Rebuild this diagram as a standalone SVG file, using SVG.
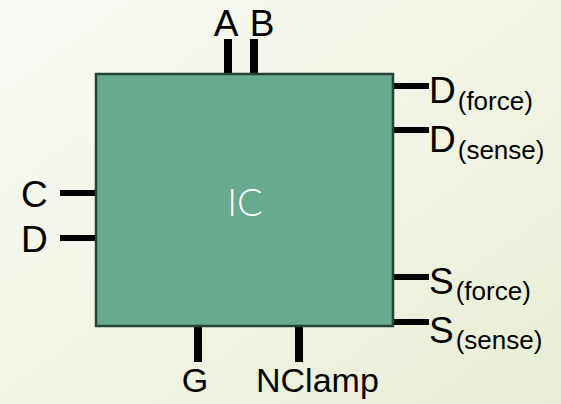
<svg xmlns="http://www.w3.org/2000/svg" width="561" height="404" viewBox="0 0 561 404">
<defs>
<linearGradient id="bg" x1="0" y1="0" x2="1" y2="1">
<stop offset="0" stop-color="#fafbf6"/>
<stop offset="1" stop-color="#e8eed4"/>
</linearGradient>
<style>
.pin{fill:#000}
.lbl{font-family:"Liberation Sans",Arial,sans-serif;font-size:37px;fill:#000}
.bot{font-size:34px}
.sub{font-size:26px}
.ic{font-family:"Century Gothic","Lato","Noto Sans",sans-serif;font-weight:300;font-size:38px;fill:#fff}
</style>
</defs>
<rect x="0" y="0" width="561" height="404" fill="url(#bg)"/>
<g id="connectors">
<rect class="pin" x="224" y="39" width="8" height="35"/>
<rect class="pin" x="250" y="39" width="8" height="35"/>
<rect class="pin" x="393" y="83" width="36" height="6"/>
<rect class="pin" x="393" y="127" width="36" height="6"/>
<rect class="pin" x="393" y="274" width="36" height="6"/>
<rect class="pin" x="393" y="319" width="36" height="6"/>
<rect class="pin" x="60" y="190" width="36" height="6"/>
<rect class="pin" x="60" y="235" width="36" height="6"/>
<rect class="pin" x="194" y="326" width="8" height="36"/>
<rect class="pin" x="295" y="326" width="8" height="36"/>
</g>
<g id="ic">
<rect x="96" y="74" width="297" height="252" fill="#66ab8f" stroke="#244536" stroke-width="2.5"/>
<text class="ic" x="245" y="216" text-anchor="middle">IC</text>
</g>
<g id="pinA"><text class="lbl" x="226" y="36" text-anchor="middle">A</text></g>
<g id="pinB"><text class="lbl" x="262" y="36" text-anchor="middle">B</text></g>
<g id="pinDforce"><text class="lbl" x="429" y="103">D<tspan class="sub" dx="2" dy="6.5">(force)</tspan></text></g>
<g id="pinDsense"><text class="lbl" x="429" y="152">D<tspan class="sub" dx="2" dy="7">(sense)</tspan></text></g>
<g id="pinSforce"><text class="lbl" x="429" y="294">S<tspan class="sub" dx="2" dy="6">(force)</tspan></text></g>
<g id="pinSsense"><text class="lbl" x="429" y="343">S<tspan class="sub" dx="2" dy="6">(sense)</tspan></text></g>
<g id="pinC"><text class="lbl" x="21" y="207">C</text></g>
<g id="pinD"><text class="lbl" x="21" y="252">D</text></g>
<g id="pinG"><text class="lbl bot" x="195" y="392" text-anchor="middle">G</text></g>
<g id="pinNClamp"><text class="lbl bot" x="256" y="392">NClamp</text></g>
</svg>
